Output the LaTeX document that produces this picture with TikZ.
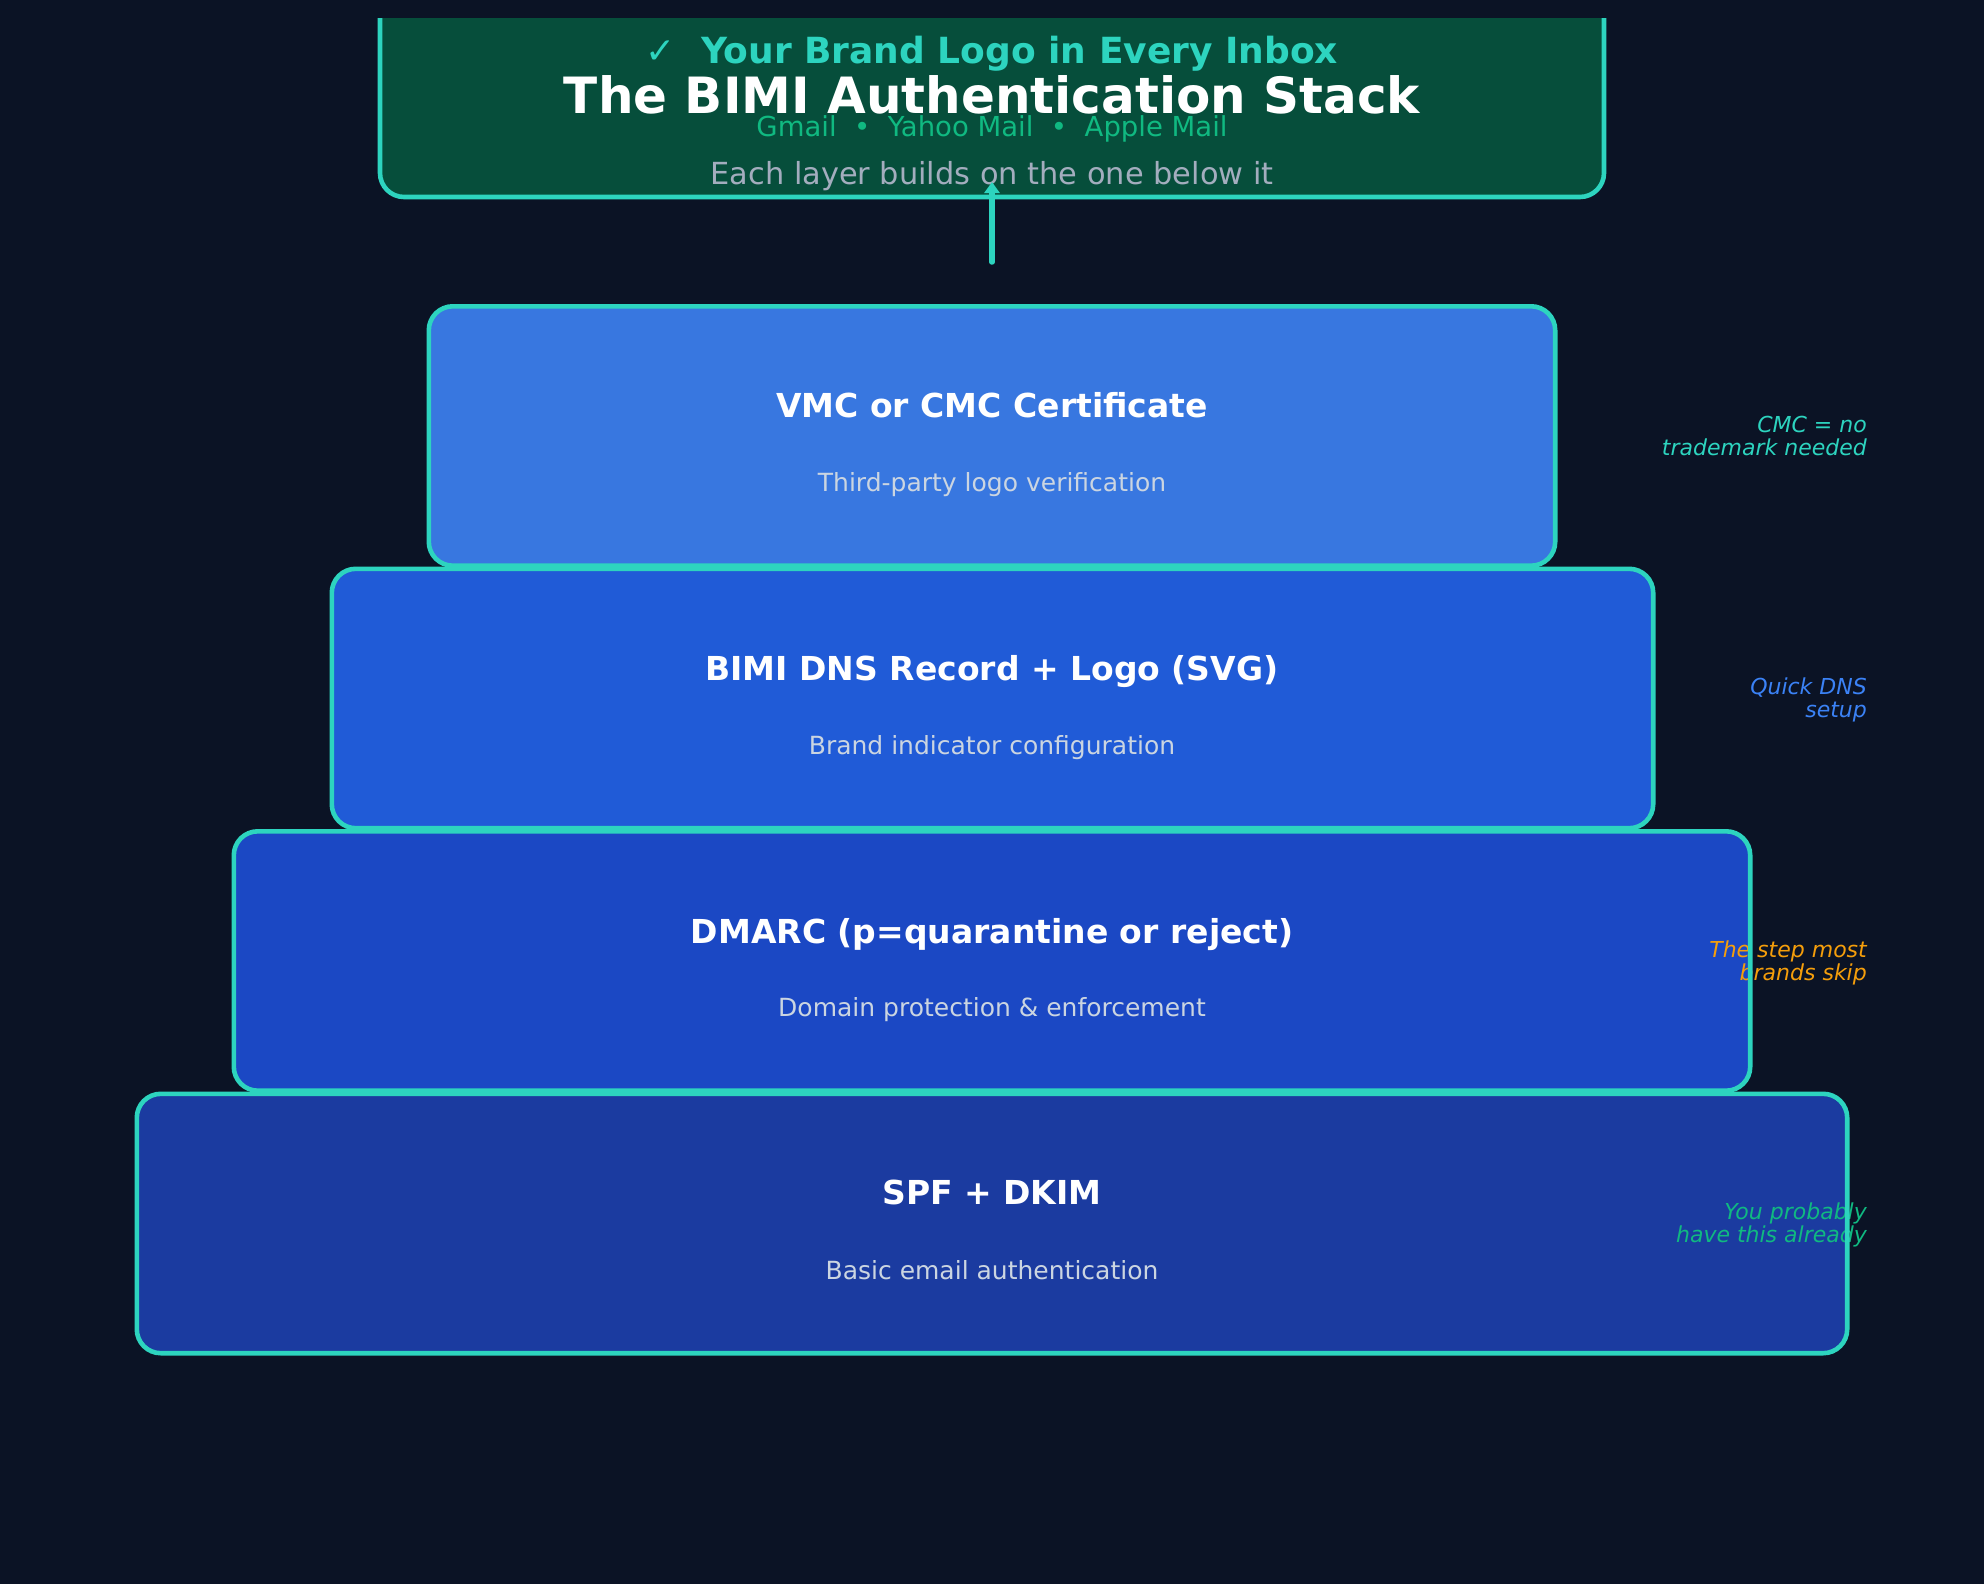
\documentclass[tikz,border=0pt]{standalone}
\usepackage{fontspec}
\setmainfont{DejaVu Sans}[BoldFont={DejaVu Sans Bold},ItalicFont={DejaVu Sans Oblique}]
\newfontfamily\checkfont{DejaVu Sans}
\usetikzlibrary{arrows.meta}
\definecolor{bg}{HTML}{0B1325}
\definecolor{tealc}{HTML}{2DD4BF}
\definecolor{herofill}{HTML}{064E3B}
\definecolor{greenc}{HTML}{10B981}
\definecolor{grayc}{HTML}{A3ADBE}
\definecolor{subgray}{HTML}{CBD5E1}
\definecolor{bluenote}{HTML}{3B82F6}
\definecolor{orangec}{HTML}{F59E0B}
\definecolor{fillA}{HTML}{3877E0}
\definecolor{fillB}{HTML}{205BD7}
\definecolor{fillC}{HTML}{1B48C4}
\definecolor{fillD}{HTML}{1B3BA0}
\begin{document}
\begin{tikzpicture}[x=1pt,y=-1pt,
  layerbox/.style={rounded corners=24pt, inner sep=0pt, minimum height=259pt},
  layerborder/.style={draw=tealc, line width=4.6pt, rounded corners=24pt},
  ltitle/.style={anchor=base, text=white, inner sep=0pt, font=\fontsize{33}{40}\selectfont\bfseries},
  lsub/.style={anchor=base, text=subgray, inner sep=0pt, font=\fontsize{25}{30}\selectfont},
  notetext/.style={anchor=east, align=right, inner sep=0pt, font=\fontsize{22}{23}\selectfont\itshape},
]
\useasboundingbox (0,0) rectangle (1984,1584);
\fill[bg] (0,0) rectangle (1984,1584);

% hero box (clipped at top)
\begin{scope}
\clip (0,19) rectangle (1984,1584);
\node[draw=tealc, line width=4.6pt, fill=herofill, rounded corners=24pt, inner sep=0pt,
      minimum width=1224pt, minimum height=217pt] (hero) at (992,88.5) {};
\end{scope}
\node[anchor=base, inner sep=0pt, text=tealc, font=\fontsize{36}{40}\selectfont\bfseries] (brand) at (992,64)
  {{\checkfont ✓}\ \ Your Brand Logo in Every Inbox};
\node[anchor=base, inner sep=0pt, text=white, font=\fontsize{50}{56}\selectfont\bfseries] (title) at (992,114)
  {The BIMI Authentication Stack};
\node[anchor=base, inner sep=0pt, text=greenc, font=\fontsize{27.5}{32}\selectfont] (clients) at (992,137)
  {Gmail\ \ •\ \ Yahoo Mail\ \ •\ \ Apple Mail};
\node[anchor=base, inner sep=0pt, text=grayc, font=\fontsize{30.4}{35}\selectfont] (tagline) at (992,184)
  {Each layer builds on the one below it};

% arrow
\coordinate (arrowstart) at (992,262);
\coordinate (arrowend) at (992,182);
\draw[tealc, line width=5.5pt, line cap=round, -{Triangle[width=15pt,length=11pt]}] (arrowstart) -- (arrowend);

% layer fills
\node[layerbox, fill=fillA, minimum width=1126pt] (vmc) at (992,436) {};
\node[layerbox, fill=fillB, minimum width=1321pt] (bimi) at (992.5,698.5) {};
\node[layerbox, fill=fillC, minimum width=1516pt] (dmarc) at (992,961) {};
\node[layerbox, fill=fillD, minimum width=1710pt] (spf) at (992,1223.5) {};

% layer texts
\node[ltitle] (vmcT) at (992,417) {VMC or CMC Certificate};
\node[lsub] (vmcS) at (992,491) {Third-party logo verification};
\node[ltitle] (bimiT) at (992,680) {BIMI DNS Record + Logo (SVG)};
\node[lsub] (bimiS) at (992,754) {Brand indicator configuration};
\node[ltitle] (dmarcT) at (992,943) {DMARC (p=quarantine or reject)};
\node[lsub] (dmarcS) at (992,1016) {Domain protection \& enforcement};
\node[ltitle] (spfT) at (992,1204) {SPF + DKIM};
\node[lsub] (spfS) at (992,1279) {Basic email authentication};

% notes
\node[notetext, text=tealc] (noteA) at (1867,436) {CMC = no\\trademark needed};
\node[notetext, text=bluenote] (noteB) at (1867,700) {Quick DNS\\setup};
\node[notetext, text=orangec] (noteC) at (1867,963) {The step most\\brands skip};
\node[notetext, text=greenc] (noteD) at (1867,1225) {You probably\\have this already};

% layer borders on top
\draw[layerborder] (vmc.north west) rectangle (vmc.south east);
\draw[layerborder] (bimi.north west) rectangle (bimi.south east);
\draw[layerborder] (dmarc.north west) rectangle (dmarc.south east);
\draw[layerborder] (spf.north west) rectangle (spf.south east);
\end{tikzpicture}
\end{document}
